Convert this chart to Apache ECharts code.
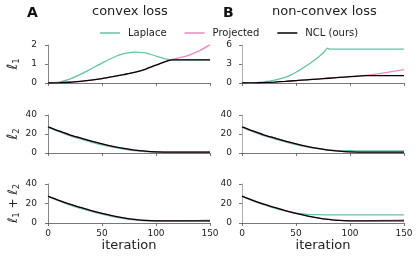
<!DOCTYPE html>
<html><head><meta charset="utf-8">
<script src="https://cdn.jsdelivr.net/npm/echarts@6/dist/echarts.min.js"></script>
<style>html,body{margin:0;padding:0;background:#fff}#c{width:419px;height:257px}</style>
</head><body><div id="c"></div>
<script>
// iteration grid shared by most series
const iterations = [0,10,20,30,40,50,60,70,80,90,100,110,115,120,130,140,150];
const seriesNames = ['Laplace','Projected','NCL (ours)'];
const panelTitles = ['convex loss','non-convex loss'];
const panelLetters = ['A','B'];

// row 1: l1
const convexL1Laplace   = [0,0.04,0.2,0.45,0.75,1.05,1.33,1.54,1.63,1.58,1.42,1.26,1.22,1.22,1.22,1.22,1.22];
const convexL1Projected = [0,0.01,0.04,0.09,0.15,0.23,0.33,0.44,0.56,0.72,0.94,1.15,1.24,1.31,1.46,1.69,2.02];
const convexL1NCL       = [0,0.01,0.04,0.09,0.15,0.23,0.33,0.44,0.56,0.72,0.94,1.15,1.22,1.22,1.22,1.22,1.22];
// non-convex Laplace l1 has a sharp corner at ~80, so it has its own iteration grid
const nonconvexL1LaplaceIters = [0,5,10,15,20,25,30,35,40,45,50,55,60,65,70,75,79,81,90,100,110,120,130,140,150];
const nonconvexL1Laplace      = [0,0.01,0.03,0.09,0.18,0.3,0.45,0.66,0.9,1.25,1.7,2.2,2.75,3.35,4.0,4.7,5.5,5.35,5.35,5.35,5.35,5.35,5.35,5.35,5.35];
const nonconvexL1Projected = [0,0.02,0.07,0.15,0.26,0.38,0.5,0.62,0.75,0.88,1.0,1.13,1.22,1.32,1.55,1.82,2.12];
const nonconvexL1NCL       = [0,0.02,0.07,0.15,0.26,0.38,0.5,0.62,0.75,0.88,1.0,1.12,1.17,1.17,1.17,1.17,1.17];

// row 2: l2
const convexL2Laplace   = [27.3,22.6,18.4,14.8,11.5,8.6,6.1,4.1,2.5,1.5,1.0,0.9,0.9,0.9,0.9,0.9,0.9];
const convexL2Projected = [27.5,23.2,19.2,15.8,12.5,9.6,7.0,4.9,3.1,1.9,1.2,0.95,0.9,0.9,0.9,0.9,0.9];
const convexL2NCL       = [27.5,23.2,19.2,15.8,12.5,9.6,7.0,4.9,3.1,1.9,1.2,0.95,0.9,0.9,0.9,0.9,0.9];
const nonconvexL2Laplace   = [27.3,22.6,18.4,14.8,11.6,8.8,6.4,4.5,3.1,2.5,2.35,2.3,2.3,2.3,2.3,2.3,2.3];
const nonconvexL2Projected = [27.5,23.2,19.2,15.8,12.5,9.6,7.0,4.9,3.1,1.9,1.2,0.95,0.9,0.9,0.9,0.9,0.9];
const nonconvexL2NCL       = [27.5,23.2,19.2,15.8,12.5,9.6,7.0,4.9,3.1,1.9,1.2,0.95,0.9,0.9,0.9,0.9,0.9];

// row 3: l1 + l2
const convexSumLaplace   = [27.3,22.7,18.6,15.0,11.8,9.0,6.6,4.6,3.1,2.3,2.1,2.1,2.1,2.1,2.1,2.1,2.1];
const convexSumProjected = [27.5,23.2,19.3,15.9,12.7,9.8,7.3,5.3,3.7,2.6,2.15,2.1,2.15,2.2,2.35,2.6,2.9];
const convexSumNCL       = [27.5,23.2,19.3,15.9,12.7,9.8,7.3,5.3,3.7,2.6,2.15,2.1,2.1,2.1,2.1,2.1,2.1];
const nonconvexSumLaplace   = [27.3,22.8,18.8,15.3,12.4,10.0,8.9,8.5,8.4,8.3,8.3,8.3,8.3,8.3,8.3,8.3,8.3];
const nonconvexSumProjected = [27.5,23.2,19.3,15.9,12.7,9.8,7.3,5.3,3.7,2.6,2.2,2.15,2.2,2.35,2.6,2.85,3.2];
const nonconvexSumNCL       = [27.5,23.2,19.3,15.9,12.7,9.8,7.3,5.3,3.7,2.6,2.2,2.1,2.1,2.1,2.1,2.1,2.1];

const panels = [
  [convexL1Laplace, convexL1Projected, convexL1NCL],
  [nonconvexL1Laplace, nonconvexL1Projected, nonconvexL1NCL],
  [convexL2Laplace, convexL2Projected, convexL2NCL],
  [nonconvexL2Laplace, nonconvexL2Projected, nonconvexL2NCL],
  [convexSumLaplace, convexSumProjected, convexSumNCL],
  [nonconvexSumLaplace, nonconvexSumProjected, nonconvexSumNCL]
];
const yMax = [2,6,40,40,40,40];
const yInterval = [1,3,20,20,20,20];
const xTicks = {min:0, max:150, interval:50};

const colors = ['#66c2a5','#e78ac3','#000000'];
const font = 'DejaVu Sans';
const gridTops = [45,115,184];
const gridHeights = [38,38,39];
const gridLefts = [48,242];

const grids = [], xAxes = [], yAxes = [], series = [];
const yNames = ['{l|ℓ}{s|1}', '{l|ℓ}{s|2}', '{l|ℓ}{s|1}{p| + }{l|ℓ}{s|2}'];
for (let i = 0; i < 6; i++) {
  const row = Math.floor(i/2), col = i%2;
  grids.push({left: gridLefts[col], top: gridTops[row], width: 162, height: gridHeights[row]});
  xAxes.push({
    type:'value', gridIndex:i, min:xTicks.min, max:xTicks.max, interval:xTicks.interval, offset:2,
    axisLine:{lineStyle:{color:'#555', width:0.8}},
    axisTick:{length:3, lineStyle:{color:'#555', width:0.8}},
    axisLabel:{show: row===2, fontSize:9, color:'#222', margin:4, fontFamily:font},
    splitLine:{show:false},
    name: row===2 ? 'iteration' : '', nameLocation:'middle', nameGap:14,
    nameTextStyle:{fontSize:13, color:'#222', fontFamily:font}
  });
  yAxes.push({
    type:'value', gridIndex:i, min:0, max:yMax[i], interval:yInterval[i], offset: col===0?5:4,
    axisLine:{show:true, lineStyle:{color: col===0?'#666':'#999', width:0.8}},
    axisTick:{show:true, length:3, lineStyle:{color:'#555', width:0.8}},
    axisLabel:{fontSize:9, color:'#222', margin:6, fontFamily:font},
    splitLine:{show:false},
    name: col===0 ? yNames[row] : '', nameLocation:'middle', nameRotate:90, nameGap:22,
    nameTextStyle:{color:'#222', fontFamily:font, rich:{
      l:{fontSize: row===2?13:14, fontStyle:'italic', fontFamily:font, color:'#222'},
      s:{fontSize:8.5, fontFamily:font, color:'#222', verticalAlign:'bottom', padding:[6,0,0,0]},
      p:{fontSize:12, fontFamily:font, color:'#222'}
    }}
  });
  panels[i].forEach((vals, k) => {
    const xs = (vals === nonconvexL1Laplace) ? nonconvexL1LaplaceIters : iterations;
    series.push({
      type:'line', name: seriesNames[k], xAxisIndex:i, yAxisIndex:i,
      data: xs.map((t, j) => [t, vals[j]]),
      smooth: (vals === nonconvexL1Laplace) ? 0.15 : 0.3, symbol:'none',
      lineStyle:{color:colors[k], width:1.3}, itemStyle:{color:colors[k]},
      z: 2 + k, silent:true
    });
  });
}

const chart = echarts.init(document.getElementById('c'), null, {renderer:'canvas'});
chart.setOption({
  animation:false,
  textStyle:{fontFamily:font},
  title:[
    {text:panelLetters[0], left:27, top:6, padding:0, textStyle:{fontSize:14, fontWeight:'bold', color:'#111', fontFamily:font}},
    {text:panelTitles[0], left:92, top:5, padding:0, textStyle:{fontSize:13, fontWeight:'normal', color:'#222', fontFamily:font}},
    {text:panelLetters[1], left:223, top:6, padding:0, textStyle:{fontSize:14, fontWeight:'bold', color:'#111', fontFamily:font}},
    {text:panelTitles[1], left:272, top:5, padding:0, textStyle:{fontSize:13, fontWeight:'normal', color:'#222', fontFamily:font}}
  ],
  legend:{
    data: seriesNames.map((n,k)=>({name:n, icon:'rect', itemStyle:{color:colors[k]}})),
    left:100, top:28, itemWidth:20, itemHeight:1.5, itemGap:18, padding:0,
    textStyle:{fontSize:10, color:'#222', fontFamily:font, padding:[0,0,0,3]},
    selectedMode:false
  },
  grid:grids, xAxis:xAxes, yAxis:yAxes, series:series
});
</script></body></html>
